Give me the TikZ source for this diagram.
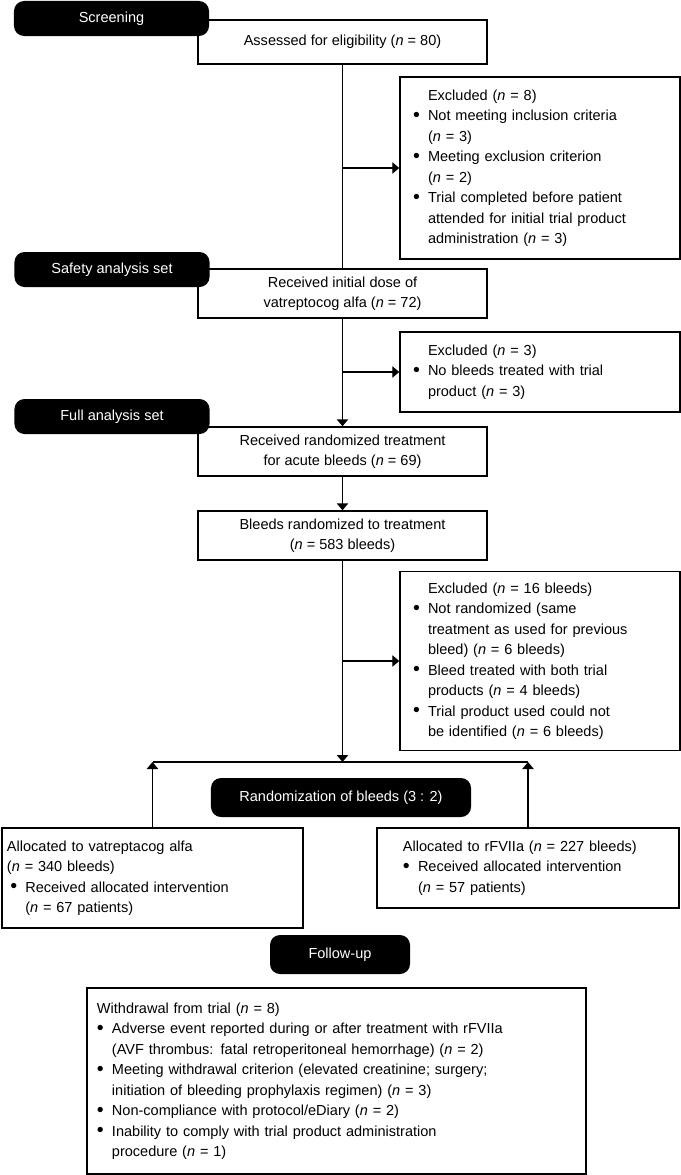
\documentclass[tikz,border=0pt]{standalone}
\usepackage{fontspec}
\setmainfont{Liberation Sans}
\usetikzlibrary{arrows.meta}
\newcommand{\bul}{\makebox[0.45cm][l]{\raisebox{-0.04em}{\scalebox{1.35}{\textbullet}}}}
\newcommand{\ind}{\hspace*{0.45cm}}
\newcommand{\nn}{\textit{n}}

\begin{document}
\begin{tikzpicture}[
        x=0.03cm, y=-0.03cm,
        stage/.style={rectangle, rounded corners=0.3cm, fill=black, text=white, minimum width=5.85cm, minimum height=1.05cm, font=\fontsize{12.4}{17.5}\selectfont},
        flowbox/.style={rectangle, draw, fill=white, line width=1.2pt, minimum width=8.67cm, minimum height=1.47cm, align=center, font=\fontsize{12.4}{17.5}\selectfont},
        listbox/.style={rectangle, draw, fill=white, line width=1.2pt, align=left, font=\fontsize{12.4}{17.5}\selectfont},
        arrow/.style={-{Triangle[length=0.21cm, width=0.34cm]}, line width=1.2pt}
    ]
        \useasboundingbox (0,0) rectangle (681,1175);

        % Main column
        \node[flowbox, minimum height=1.32cm] (assess) at (342.5,42) {Assessed for eligibility (\nn{} = 80)};
        \node[flowbox] (dose) at (342.5,293.5) {Received initial dose of\\vatreptocog alfa (\nn{} = 72)};
        \node[flowbox] (treat) at (342.5,451.5) {Received randomized treatment\\for acute bleeds (\nn{} = 69)};
        \node[flowbox] (bleeds) at (342.5,535.5) {Bleeds randomized to treatment\\(\nn{} = 583 bleeds)};

        % Exclusions
        \node[listbox, text width=7.62cm, inner xsep=0.39cm, minimum height=5.46cm] (excl1) at (540,168) {\ind Excluded (\nn{} = 8)\\
            \bul Not meeting inclusion criteria\\
            \ind(\nn{} = 3)\\
            \bul Meeting exclusion criterion\\
            \ind(\nn{} = 2)\\
            \bul Trial completed before patient\\
            \ind attended for initial trial product\\
            \ind administration (\nn{} = 3)};
        \node[listbox, text width=7.62cm, inner xsep=0.39cm, minimum height=2.4cm] (excl2) at (540,372) {\ind Excluded (\nn{} = 3)\\
            \bul No bleeds treated with trial\\
            \ind product (\nn{} = 3)};
        \node[listbox, text width=7.62cm, inner xsep=0.39cm, minimum height=5.37cm] (excl3) at (540,661) {\ind Excluded (\nn{} = 16 bleeds)\\
            \bul Not randomized (same\\
            \ind treatment as used for previous\\
            \ind bleed) (\nn{} = 6 bleeds)\\
            \bul Bleed treated with both trial\\
            \ind products (\nn{} = 4 bleeds)\\
            \bul Trial product used could not\\
            \ind be identified (\nn{} = 6 bleeds)};

        % Allocation
        \coordinate (split) at (342.5,762);
        \node[listbox, text width=8.73cm, inner xsep=0.15cm, minimum height=3cm] (allocA) at (152.5,878) {Allocated to vatreptacog alfa\\
            (\nn{} = 340 bleeds)\\
            \hspace*{0.1cm}\bul Received allocated intervention\\
            \hspace*{0.1cm}\ind(\nn{} = 67 patients)};
        \node[listbox, text width=7.5cm, inner xsep=0.78cm, minimum height=2.4cm] (allocB) at (528,868) {Allocated to rFVIIa (\nn{} = 227 bleeds)\\
            \bul Received allocated intervention\\
            \ind(\nn{} = 57 patients)};

        % Follow-up
        \node[listbox, text width=14.37cm, inner xsep=0.3cm, minimum height=5.58cm] (withdraw) at (336.5,1081) {Withdrawal from trial (\nn{} = 8)\\
            \bul Adverse event reported during or after treatment with rFVIIa\\
            \ind(AVF thrombus: fatal retroperitoneal hemorrhage) (\nn{} = 2)\\
            \bul Meeting withdrawal criterion (elevated creatinine; surgery;\\
            \ind initiation of bleeding prophylaxis regimen) (\nn{} = 3)\\
            \bul Non-compliance with protocol/eDiary (\nn{} = 2)\\
            \bul Inability to comply with trial product administration\\
            \ind procedure (\nn{} = 1)};

        % Stage labels
        \node[stage] (screen) at (111.5,18.5) {Screening};
        \node[stage] (safety) at (112,269.5) {Safety analysis set};
        \node[stage] (full) at (112,416.5) {Full analysis set};
        \node[stage, minimum width=7.8cm, minimum height=1.17cm] (randlab) at (341,797.5) {Randomization of bleeds (3 : 2)};
        \node[stage, minimum width=4.2cm, minimum height=1.17cm] (follow) at (340,954.5) {Follow-up};

        % Arrows
        \draw[line width=1.2pt] (assess) -- (dose);
        \draw[arrow] (assess.south |- excl1.west) -- (excl1.west);
        \draw[arrow] (dose) -- (treat);
        \draw[arrow] (dose.south |- excl2.west) -- (excl2.west);
        \draw[arrow] (treat) -- (bleeds);
        \draw[arrow] (bleeds) -- (split);
        \draw[arrow] (bleeds.south |- excl3.west) -- (excl3.west);
        \draw[line width=1.2pt] (allocA.north |- split) -- (allocB.north |- split);
        \draw[arrow] (allocA) -- (allocA.north |- split);
        \draw[arrow] (allocB) -- (allocB.north |- split);
    \end{tikzpicture}
\end{document}
